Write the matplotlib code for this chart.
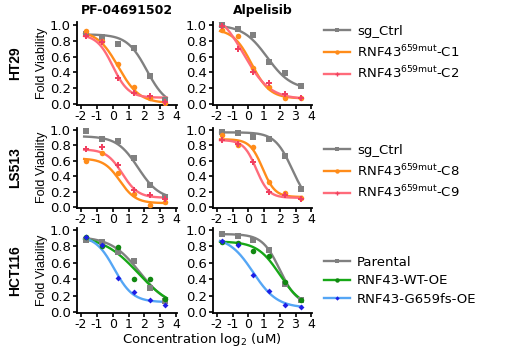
import numpy as np
import matplotlib
matplotlib.use("Agg")
import matplotlib.pyplot as plt
from matplotlib.lines import Line2D

plt.rcParams['font.family'] = ['DejaVu Sans']
plt.rcParams['axes.unicode_minus'] = False
plt.rcParams['mathtext.fontset'] = 'custom'
plt.rcParams['mathtext.rm'] = 'DejaVu Sans'

HFONT = 9.5     # horizontal texts
VFAM = ['Liberation Sans', 'DejaVu Sans']  # rotated texts

# concentrations (uM) -> log2
conc = np.array([0.3125, 0.625, 1.25, 2.5, 5, 10])
logc = np.log2(conc)

drugs = ["PF-04691502", "Alpelisib"]
cell_lines = ["HT29", "LS513", "HCT116"]

legend_labels = [
    ["sg_Ctrl", r"RNF43$^{\mathregular{659mut}}$-C1", r"RNF43$^{\mathregular{659mut}}$-C2"],
    ["sg_Ctrl", r"RNF43$^{\mathregular{659mut}}$-C8", r"RNF43$^{\mathregular{659mut}}$-C9"],
    ["Parental", "RNF43-WT-OE", "RNF43-G659fs-OE"],
]

# measured fold viability [series]
ht29_pf = [[0.88, 0.85, 0.76, 0.71, 0.35, 0.05],
           [0.92, 0.79, 0.50, 0.22, 0.08, 0.01],
           [0.86, 0.78, 0.33, 0.14, 0.10, 0.03]]
ht29_alp = [[1.00, 0.95, 0.87, 0.53, 0.39, 0.23],
            [0.94, 0.86, 0.45, 0.22, 0.07, 0.08],
            [0.99, 0.70, 0.40, 0.27, 0.13, 0.08]]
ls513_pf = [[0.99, 0.88, 0.86, 0.64, 0.28, 0.13],
            [0.60, 0.70, 0.44, 0.17, 0.03, 0.07],
            [0.75, 0.78, 0.55, 0.22, 0.15, 0.11]]
ls513_alp = [[0.98, 0.96, 0.91, 0.88, 0.66, 0.23],
             [0.94, 0.81, 0.78, 0.33, 0.18, 0.12],
             [0.87, 0.82, 0.59, 0.20, 0.16, 0.10]]
hct_pf = [[0.88, 0.85, 0.73, 0.62, 0.29, 0.13],
          [0.91, 0.80, 0.79, 0.40, 0.40, 0.16],
          [0.91, 0.82, 0.41, 0.24, 0.15, 0.09]]
hct_alp = [[0.95, 0.93, 0.88, 0.76, 0.34, 0.14],
           [0.85, 0.84, 0.74, 0.68, 0.36, 0.14],
           [0.87, 0.82, 0.45, 0.26, 0.08, 0.06]]

# fitted curve parameters (top, bottom, midpoint, slope)
fit_ht29_pf = [(0.88, -0.03, 2.15, 1.6), (0.93, 0.01, 0.35, 1.5), (0.88, 0.08, 0.0, 2.0)]
fit_ht29_alp = [(1.00, 0.18, 1.2, 1.3), (0.95, 0.07, 0.2, 1.7), (1.20, 0.06, -0.3, 1.2)]
fit_ls513_pf = [(0.92, 0.10, 1.6, 1.5), (0.63, 0.05, 0.45, 2.0), (0.75, 0.12, 0.6, 2.0)]
fit_ls513_alp = [(0.97, 0.00, 2.8, 1.8), (0.88, 0.13, 0.9, 2.5), (0.87, 0.12, 0.5, 2.5)]
fit_hct_pf = [(0.92, 0.05, 1.7, 1.1), (0.93, 0.02, 1.6, 0.9), (0.93, 0.12, 0.1, 1.7)]
fit_hct_alp = [(0.95, 0.08, 2.0, 1.8), (0.86, 0.05, 2.0, 1.4), (0.92, 0.05, 0.3, 1.3)]

data = [[ht29_pf, ht29_alp], [ls513_pf, ls513_alp], [hct_pf, hct_alp]]
fits = [[fit_ht29_pf, fit_ht29_alp], [fit_ls513_pf, fit_ls513_alp], [fit_hct_pf, fit_hct_alp]]

# styles
grey = "#808080"
orange = "#FF8C1A"
pink = "#FF6B7A"
green = "#17A817"
blue_line = "#55A6F5"
blue_mark = "#1E1EE6"
row_styles = [
    [(grey, grey, 's', 4), (orange, orange, 'o', 4), (pink, "#F04060", 'P', 3.8)],
    [(grey, grey, 's', 4), (orange, orange, 'o', 4), (pink, "#F04060", 'P', 3.8)],
    [(grey, grey, 's', 4), (green, "#118811", 'o', 4), (blue_line, blue_mark, 'D', 3.0)],
]

fig = plt.figure(figsize=(5.08, 3.47), dpi=100)
W, H = 508, 347
col_left = [77, 213]
col_w = [100, 99]
rows_px = [(22.5, 104.8), (127.7, 207.8), (227.5, 312.8)]

xfit = np.linspace(-1.8, 3.4, 200)

def curve(p, x):
    t, b, x0, k = p
    return b + (t - b) / (1 + np.exp(k * (x - x0)))

for r in range(3):
    top, bot = rows_px[r]
    for c in range(2):
        ax = fig.add_axes([col_left[c] / W, 1 - bot / H, col_w[c] / W, (bot - top) / H])
        for s in range(3):
            lc, mc, mk, ms = row_styles[r][s]
            ax.plot(xfit, curve(fits[r][c][s], xfit), color=lc, lw=1.7, zorder=2)
            ax.plot(logc, data[r][c][s], linestyle='none', marker=mk, color=mc,
                    markersize=ms, markeredgewidth=0, zorder=3)
        ax.set_xlim(-2.25, 4.05)
        ax.set_ylim(-0.01, 1.03)
        ax.set_xticks(range(-2, 5))
        ax.set_yticks(np.arange(0, 1.01, 0.2))
        ax.set_yticklabels([f"{v:.1f}" for v in np.arange(0, 1.01, 0.2)])
        for sp in ['top', 'right']:
            ax.spines[sp].set_visible(False)
        for sp in ['left', 'bottom']:
            ax.spines[sp].set_linewidth(1.3)
        ax.tick_params(direction='out', length=3, width=1.2, labelsize=HFONT, pad=1.5)
        ax.tick_params(axis='x', labelsize=9, pad=1)
        if r == 0:
            ax.set_title(drugs[c], fontsize=9, fontweight='bold', pad=6)
        if c == 0:
            ax.set_ylabel("Fold Viability", fontsize=9, family=VFAM, labelpad=1)
            fig.text(15 / W, 1 - ((top + bot) / 2) / H, cell_lines[r], rotation=90,
                     fontsize=10, fontweight='bold', family=VFAM, ha='center', va='center')
    # legend
    handles = []
    for s in range(3):
        lc, mc, mk, ms = row_styles[r][s]
        handles.append(Line2D([0], [0], color=lc, lw=1.7, marker=mk, markerfacecolor=mc,
                              markeredgewidth=0, markersize=ms - 0.8))
    leg_top = [25, 144, 256][r]
    fig.legend(handles, legend_labels[r], loc='upper left',
               bbox_to_anchor=(324 / W, 1 - leg_top / H), frameon=False,
               fontsize=HFONT, handlelength=2.0, handletextpad=0.5, labelspacing=0.4,
               borderaxespad=0, borderpad=0)

fig.text(202 / W, 1 - 340 / H, r"Concentration log$_{\mathregular{2}}$ (uM)", fontsize=HFONT,
         ha='center', va='center')

fig.savefig("out.png", dpi=100)
